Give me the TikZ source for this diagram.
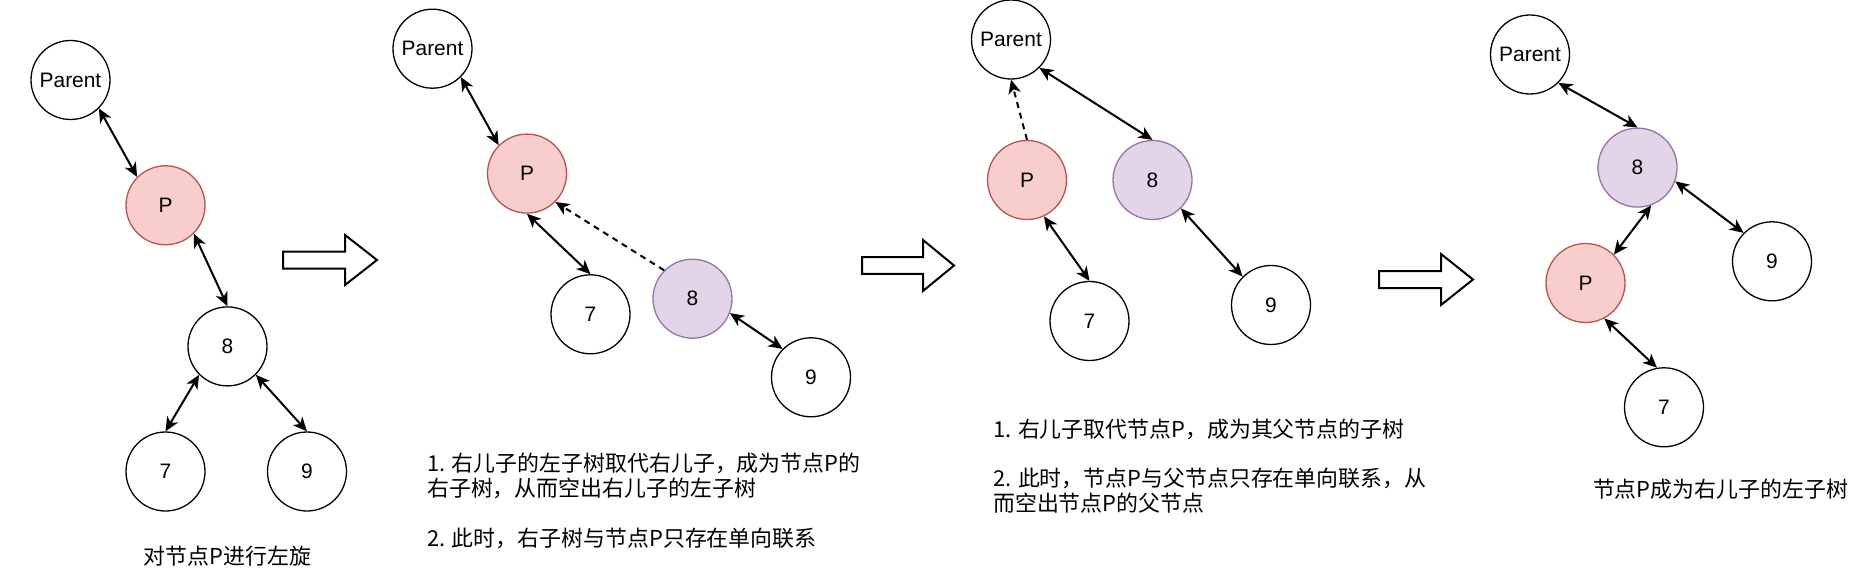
\documentclass[tikz,border=0pt]{standalone}
\usepackage{fontspec}
\setmainfont{Liberation Sans}
\newfontfamily\cjk{Noto Sans CJK SC}
\usetikzlibrary{arrows.meta}
\definecolor{pfill}{HTML}{F8CECC}
\definecolor{pdraw}{HTML}{B85450}
\definecolor{efill}{HTML}{E1D5E7}
\definecolor{edraw}{HTML}{9673A6}
\tikzset{
  nd/.style={circle, draw=black, fill=white, line width=1.3bp, minimum size=79bp, inner sep=0pt,
    font=\fontsize{21}{25}\selectfont},
  pnd/.style={nd, draw=pdraw, fill=pfill},
  end/.style={nd, draw=edraw, fill=efill},
  tipa/.tip={Stealth[length=14bp,width=12.5bp,inset=4bp]},
  conn/.style={line width=2bp, tipa-tipa},
  dconn/.style={line width=2bp, -tipa, dash pattern=on 6bp off 5bp},
  txt/.style={anchor=west, inner sep=0pt, font=\cjk\fontsize{22}{25}\selectfont},
  ctxt/.style={anchor=center, inner sep=0pt, font=\cjk\fontsize{22}{25}\selectfont},
  hollow/.style={draw=black, fill=white, line width=2bp, line join=miter}
}
\newcommand{\hollowarrow}[6]{% x0, xb, x1, yc, hs, hh
  \draw[hollow] (#1,#4-#5) -- (#2,#4-#5) -- (#2,#4-#6) -- (#3,#4) -- (#2,#4+#6) -- (#2,#4+#5) -- (#1,#4+#5) -- cycle;}
\begin{document}
\begin{tikzpicture}[x=1bp,y=-1bp]
\useasboundingbox (0,0) rectangle (1858,574);

% ---------- Panel 1 ----------
\node[nd]  (aParent) at (70.5,80) {Parent};
\node[pnd] (aP) at (165.5,205.3) {P};
\node[nd]  (a8) at (227.5,346.4) {8};
\node[nd]  (a7) at (165.5,471.5) {7};
\node[nd]  (a9) at (307,471.5) {9};
\draw[conn] (aParent.-45) -- (aP.135);
\draw[conn] (aP.-45) -- (a8.90);
\draw[conn] (a8.-135) -- (a7.90);
\draw[conn] (a8.-45) -- (a9.90);
\node[ctxt] (acap) at (227.5,556.4) {对节点P进行左旋};

\hollowarrow{283}{345}{377}{260}{8.5}{25}

% ---------- Panel 2 ----------
\node[nd]  (bParent) at (432.5,48.7) {Parent};
\node[pnd] (bP) at (527,173.6) {P};
\node[nd]  (b7) at (590.5,314.3) {7};
\node[end] (b8) at (692.5,298.7) {8};
\node[nd]  (b9) at (811,377.3) {9};
\draw[conn] (bParent.-45) -- (bP.135);
\draw[conn] (bP.-90) -- (b7.90);
\draw[dconn] (b8.135) -- (bP.-45);
\draw[conn] (b8.-21) -- (b9.135);
\node[txt] (bt1) at (427,463.6) {1. 右儿子的左子树取代右儿子，成为节点P的};
\node[txt] (bt2) at (427,488) {右子树，从而空出右儿子的左子树};
\node[txt] (bt3) at (427,538) {2. 此时，右子树与节点P只存在单向联系};

\hollowarrow{862}{923}{954}{265.5}{8.3}{25.5}

% ---------- Panel 3 ----------
\node[nd]  (cParent) at (1011,39.5) {Parent};
\node[pnd] (cP) at (1027,180) {P};
\node[end] (c8) at (1152.5,180) {8};
\node[nd]  (c7) at (1089.5,321) {7};
\node[nd]  (c9) at (1271,305) {9};
\draw[dconn] (cP.90) -- (cParent.-90);
\draw[conn] (cParent.-45) -- (c8.90);
\draw[conn] (cP.-65) -- (c7.90);
\draw[conn] (c8.-45) -- (c9.135);
\node[txt] (ct1) at (993,429) {1. 右儿子取代节点P，成为其父节点的子树};
\node[txt] (ct2) at (993,478.4) {2. 此时，节点P与父节点只存在单向联系，从};
\node[txt] (ct3) at (993,503.4) {而空出节点P的父节点};

\hollowarrow{1379}{1441}{1473}{279.5}{8.5}{25.5}

% ---------- Panel 4 ----------
\node[nd]  (dParent) at (1530,54.5) {Parent};
\node[end] (d8) at (1637.5,167.6) {8};
\node[nd]  (d9) at (1772,261.3) {9};
\node[pnd] (dP) at (1585.5,283) {P};
\node[nd]  (d7) at (1664,407.3) {7};
\draw[conn] (dParent.-45) -- (d8.90);
\draw[conn] (d8.-20) -- (d9.135);
\draw[conn] (d8.-70) -- (dP.45);
\draw[conn] (dP.-62) -- (d7.100);
\node[ctxt] (dcap) at (1720.5,489) {节点P成为右儿子的左子树};
\end{tikzpicture}
\end{document}
